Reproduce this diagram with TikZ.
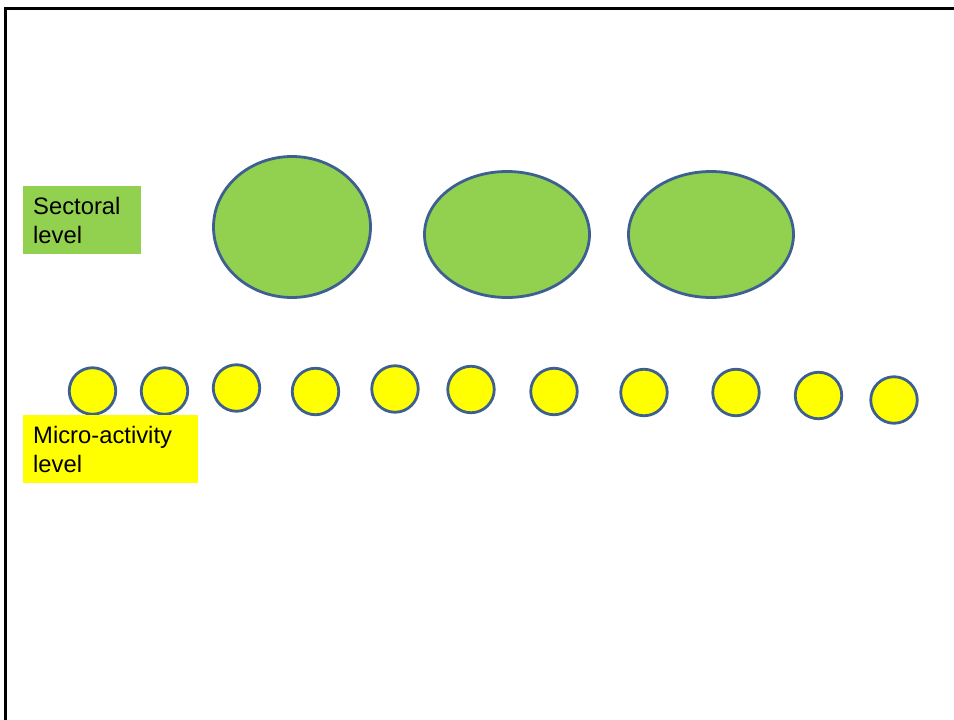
\documentclass[tikz,border=0pt]{standalone}
\usepackage{fontspec}
\setmainfont{Liberation Sans}
\usetikzlibrary{shapes.geometric}
\definecolor{lvlgreen}{RGB}{146,208,80}
\definecolor{lvlyellow}{RGB}{255,255,0}
\definecolor{lvlblue}{RGB}{62,96,145}
\tikzset{
  sector/.style={ellipse, draw=lvlblue, line width=2.8pt, fill=lvlgreen, inner sep=0pt},
  micro/.style={circle, draw=lvlblue, line width=2.8pt, fill=lvlyellow, inner sep=0pt, minimum size=46.5pt},
  levelbox/.style={anchor=north west, align=left, inner xsep=10pt, inner ysep=0pt, minimum height=68pt,
    font=\fontsize{23.8}{29}\selectfont}
}
\begin{document}
\begin{tikzpicture}[x=1pt, y=-1pt]
			\useasboundingbox (0,0) rectangle (954,720);
			\draw[line width=2.5pt] (5.5,720) -- (5.5,8.5) -- (954,8.5);
			% sectoral level
			\node[sector, minimum width=157pt, minimum height=141pt] (sec1) at (292,227) {};
			\node[sector, minimum width=165pt, minimum height=126pt] (sec2) at (507,234.5) {};
			\node[sector, minimum width=165pt, minimum height=126pt] (sec3) at (711,234.5) {};
			\node[levelbox, fill=lvlgreen, text width=98pt] (sectlabel) at (23,186) {Sectoral\\level};
			% micro-activity level
			\node[micro] (act1) at (92.5,391) {};
			\node[micro] (act2) at (164.5,391) {};
			\node[micro] (act3) at (236.5,388) {};
			\node[micro] (act4) at (315.5,391.5) {};
			\node[micro] (act5) at (395,389) {};
			\node[micro] (act6) at (471,389.5) {};
			\node[micro] (act7) at (554,391.5) {};
			\node[micro] (act8) at (644,392.5) {};
			\node[micro] (act9) at (736,392.5) {};
			\node[micro] (act10) at (818.5,395.5) {};
			\node[micro] (act11) at (894,400) {};
			\node[levelbox, fill=lvlyellow, text width=155pt] (microlabel) at (23,415) {Micro-activity\\level};
		\end{tikzpicture}
\end{document}
